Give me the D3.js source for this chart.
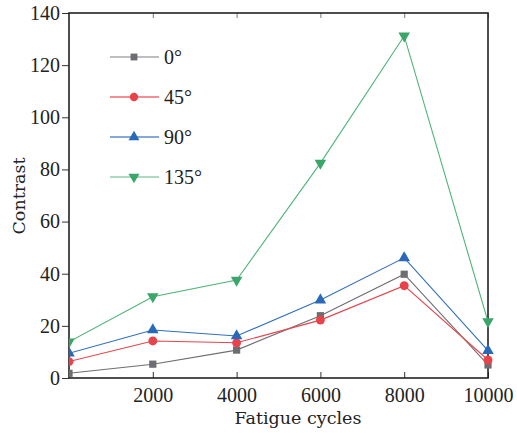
<!DOCTYPE html>
<html>
<head>
<meta charset="utf-8">
<script src="https://cdn.jsdelivr.net/npm/d3@7"></script>
<style>
  body { margin: 0; background: #fff; }
  text { fill: #222; }
  .num { font-family: "Liberation Serif", "Times New Roman", Times, serif; }
  .word { font-family: "DejaVu Serif", serif; }
</style>
</head>
<body>
<svg id="chart" width="517" height="433"></svg>
<script>
// data
var cycles = [0, 2000, 4000, 6000, 8000, 10000];
var xTicks = [2000, 4000, 6000, 8000, 10000];
var yTicks = [0, 20, 40, 60, 80, 100, 120, 140];
var angle0 = [1.8, 5.3, 10.7, 23.9, 39.8, 5.0];
var angle45 = [6.3, 14.2, 13.5, 22.2, 35.4, 6.9];
var angle90 = [9.5, 18.4, 16.1, 29.9, 46.1, 10.5];
var angle135 = [13.9, 31.2, 37.6, 82.4, 131.2, 21.6];

var series = [
  {name: "0\u00b0", values: angle0, line: "#6d6e71", mark: "#6d6e71", legLine: "#a8a9ab", shape: d3.symbolSquare, size: 52, rot: 0},
  {name: "45\u00b0", values: angle45, line: "#e8434b", mark: "#e8434b", legLine: "#ec6a70", shape: d3.symbolCircle, size: 62, rot: 0},
  {name: "90\u00b0", values: angle90, line: "#2f6fbc", mark: "#2a69b8", legLine: "#5b8ccb", shape: d3.symbolTriangle, size: 58, rot: 0},
  {name: "135\u00b0", values: angle135, line: "#4fb37a", mark: "#3aa66a", legLine: "#8fd0ab", shape: d3.symbolTriangle, size: 58, rot: 180}
];

var svg = d3.select("#chart");
var margin = {top: 13, right: 29, bottom: 55, left: 69};
var width = 517 - margin.left - margin.right,
    height = 433 - margin.top - margin.bottom;

var x = d3.scaleLinear().domain([0, 10000]).range([0, width]);
var y = d3.scaleLinear().domain([0, 140]).range([height, 0]);

var g = svg.append("g").attr("transform", "translate(" + margin.left + "," + margin.top + ")");

g.append("defs").append("clipPath").attr("id", "clip")
  .append("rect").attr("x", 0).attr("y", -10).attr("width", width + 20).attr("height", height + 20);

// bottom axis, ticks inward
var xAxis = g.append("g")
  .attr("transform", "translate(0," + height + ")")
  .call(d3.axisBottom(x).tickValues(xTicks).tickFormat(d3.format("d"))
    .tickSizeInner(-6).tickSizeOuter(0).tickPadding(10));
xAxis.attr("font-family", null);
xAxis.select(".domain").remove();
xAxis.selectAll("line").attr("stroke", "#333");
xAxis.selectAll("text").attr("class", "num").attr("font-size", 20).attr("fill", "#222");

// top axis, ticks inward
var xTop = g.append("g")
  .call(d3.axisTop(x).tickValues(xTicks).tickSizeInner(-5).tickSizeOuter(0).tickFormat(""));
xTop.select(".domain").remove();
xTop.selectAll("line").attr("stroke", "#777");

// left axis, ticks outward
var yAxis = g.append("g")
  .call(d3.axisLeft(y).tickValues(yTicks).tickSizeInner(7).tickSizeOuter(0).tickPadding(2));
yAxis.attr("font-family", null);
yAxis.select(".domain").remove();
yAxis.selectAll("line").attr("stroke", "#333");
yAxis.selectAll("text").attr("class", "num").attr("font-size", 20).attr("fill", "#222");

// frame
g.append("rect")
  .attr("x", 0).attr("y", 0).attr("width", width).attr("height", height)
  .attr("fill", "none").attr("stroke", "#222").attr("stroke-width", 1.6);

var lineGen = d3.line()
  .x(function(d, i) { return x(cycles[i]); })
  .y(function(d) { return y(d); });

var plot = g.append("g").attr("clip-path", "url(#clip)");

series.forEach(function(s) {
  plot.append("path")
    .datum(s.values)
    .attr("d", lineGen)
    .attr("fill", "none")
    .attr("stroke", s.line)
    .attr("stroke-width", 1.1);
});

series.forEach(function(s) {
  plot.selectAll(null)
    .data(s.values)
    .enter().append("path")
    .attr("d", d3.symbol().type(s.shape).size(s.size))
    .attr("transform", function(d, i) {
      return "translate(" + x(cycles[i]) + "," + y(d) + ") rotate(" + s.rot + ")";
    })
    .attr("fill", s.mark);
});

// legend
var legend = g.append("g").attr("transform", "translate(41,44)");
series.forEach(function(s, i) {
  var row = legend.append("g").attr("transform", "translate(0," + (i * 40) + ")");
  row.append("line").attr("x1", 0).attr("x2", 49).attr("y1", 0).attr("y2", 0)
    .attr("stroke", s.legLine).attr("stroke-width", 1.4);
  row.append("path")
    .attr("d", d3.symbol().type(s.shape).size(s.size * 0.9))
    .attr("transform", "translate(24,0) rotate(" + s.rot + ")")
    .attr("fill", s.mark);
  row.append("text").attr("class", "num").attr("x", 54).attr("y", 7)
    .attr("font-size", 20).text(s.name);
});

// axis titles
svg.append("text").attr("class", "word")
  .attr("x", 298).attr("y", 424)
  .attr("text-anchor", "middle").attr("font-size", 17.5)
  .text("Fatigue cycles");

svg.append("text").attr("class", "word")
  .attr("transform", "translate(25,196) rotate(-90)")
  .attr("text-anchor", "middle").attr("font-size", 17.5)
  .text("Contrast");
</script>
</body>
</html>
